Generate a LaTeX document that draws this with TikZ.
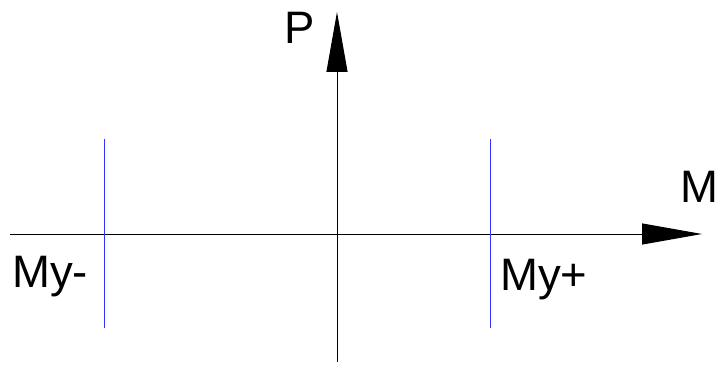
\documentclass[tikz,border=0pt]{standalone}
\usepackage{fontspec}
\setmainfont{Liberation Sans}
\usetikzlibrary{arrows.meta}

\tikzstyle{axis}=[draw=black, line width=1pt, -{Triangle[length=60pt, width=21pt]}]
\tikzstyle{limit}=[draw=blue!80!white, line width=1pt]
\tikzstyle{label}=[inner sep=0pt, anchor=base west, font=\fontsize{45.5}{54}\selectfont]

\begin{document}
\begin{tikzpicture}[x=1pt, y=-1pt]
					\useasboundingbox (0,0) rectangle (717,366);

					\coordinate (Mstart) at (10,234);
					\coordinate (Mend)   at (702,234);
					\coordinate (Pstart) at (337,362);
					\coordinate (Pend)   at (337,12);
					\coordinate (Lneg top) at (104,139);
					\coordinate (Lneg bot) at (104,328);
					\coordinate (Lpos top) at (490,139);
					\coordinate (Lpos bot) at (490,328);

					\draw[axis] (Mstart) -- (Mend);
					\draw[axis] (Pstart) -- (Pend);
					\draw[limit] (Lneg top) -- (Lneg bot);
					\draw[limit] (Lpos top) -- (Lpos bot);

					\node[label] (P)   at (284,44)  {P};
					\node[label] (M)   at (680,203) {M};
					\node[label] (Myn) at (12,287)  {My-};
					\node[label] (Myp) at (500,290) {My+};
				\end{tikzpicture}
\end{document}
